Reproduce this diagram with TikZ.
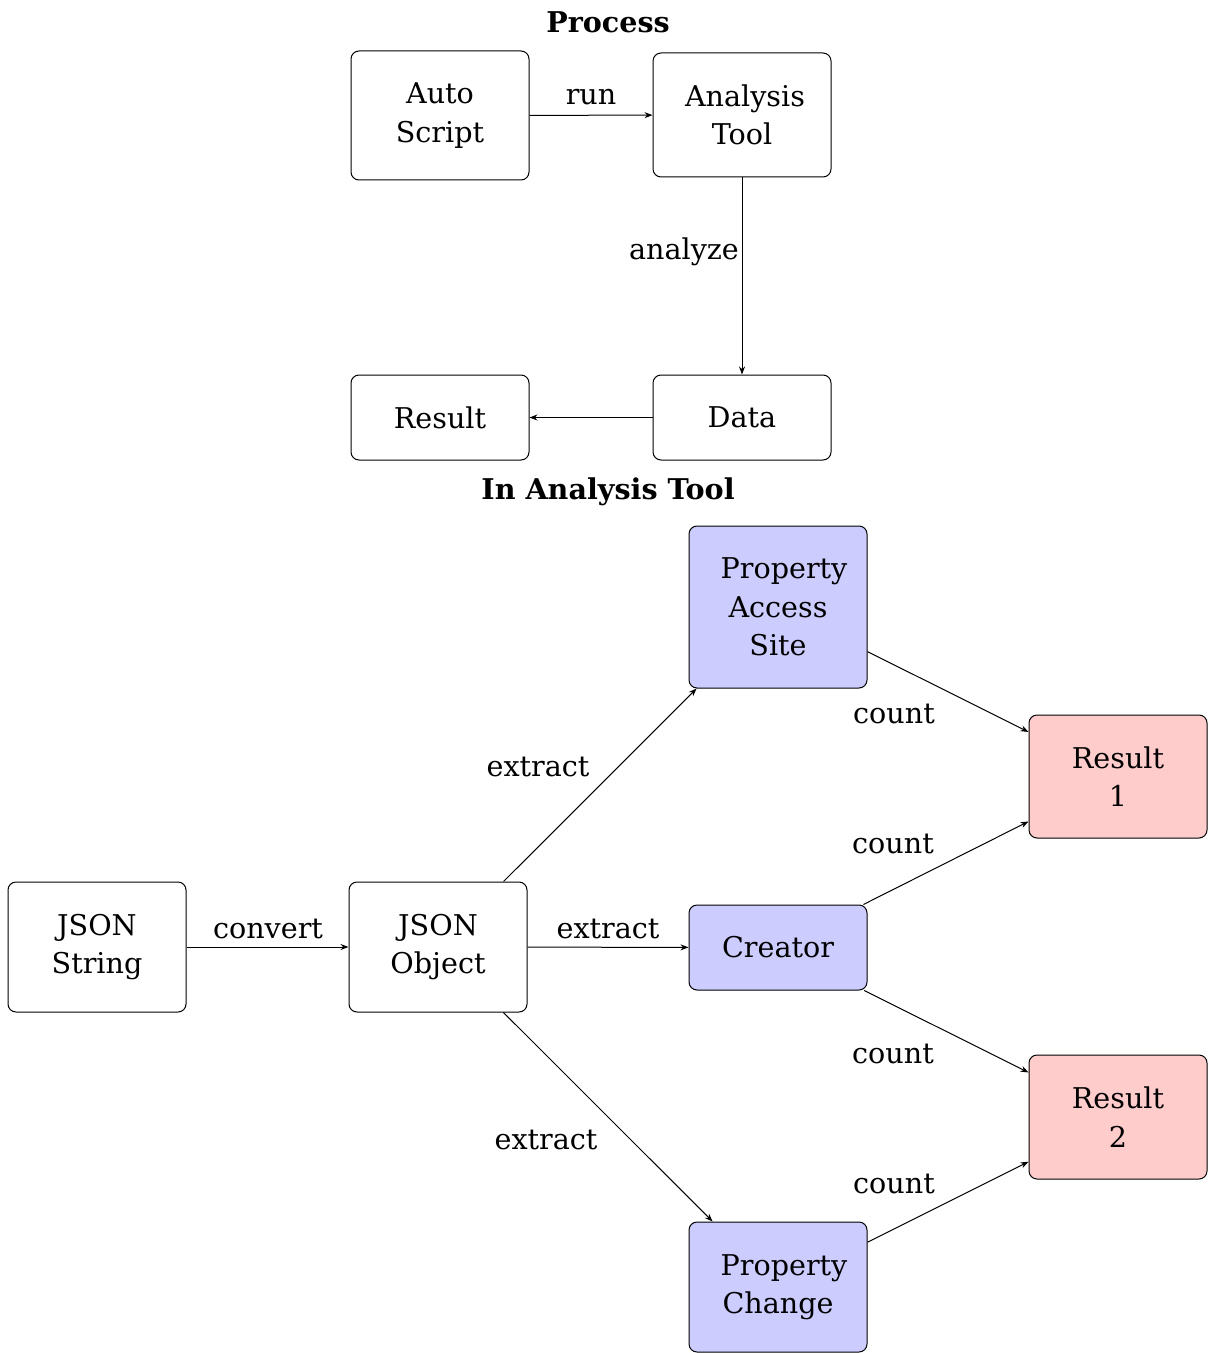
\documentclass[tikz,border=0pt]{standalone}
\usepackage{fontspec}
\setmainfont{DejaVu Serif}
\usetikzlibrary{arrows.meta}
\definecolor{blufill}{RGB}{204,204,255}
\definecolor{redfill}{RGB}{255,204,204}
\begin{document}
\begin{tikzpicture}[x=0.5pt,y=-0.5pt,
  box/.style={draw, rounded corners=4pt, line width=0.5pt, minimum width=89pt, align=center, inner sep=0pt, font=\fontsize{14.3}{19.2}\selectfont},
  blu/.style={box, fill=blufill},
  red/.style={box, fill=redfill},
  lbl/.style={inner sep=0pt, font=\fontsize{14.3}{19.2}\selectfont},
  ttl/.style={inner sep=0pt, font=\fontsize{14.3}{19.2}\selectfont\bfseries},
  arr/.style={-{Stealth[length=4pt,width=3pt]}, line width=0.5pt}]
\useasboundingbox (0,0) rectangle (1209,1353);
% Process
\node[ttl] (t1) at (608,22) {Process};
\node[box, minimum height=64.5pt] (auto) at (440,115.5) {Auto\\Script};
\node[box, minimum height=62pt] (tool) at (742,115) {\hspace*{3pt}Analysis\\Tool};
\node[box, minimum height=42.5pt] (data) at (742,417.5) {Data};
\node[box, minimum height=42.5pt] (res) at (440,417.5) {Result};
\draw[arr] (auto) -- (tool);
\draw[arr] (tool) -- (data);
\draw[arr] (data) -- (res);
\node[lbl] (l1) at (591,97) {run};
\node[lbl] (l2) at (684,252) {analyze};
% In Analysis Tool
\node[ttl] (t2) at (608,492) {In Analysis Tool};
\node[box, minimum height=65pt] (jstr) at (97,947) {JSON\\String};
\node[box, minimum height=65pt] (jobj) at (438,947) {JSON\\Object};
\node[blu, minimum height=81pt] (pas) at (778,607) {\hspace*{6pt}Property\\Access\\Site};
\node[blu, minimum height=42.5pt] (cre) at (778,947.5) {Creator};
\node[blu, minimum height=65pt] (pc) at (778,1287) {\hspace*{6pt}Property\\Change};
\node[red, minimum height=61.5pt] (r1) at (1118,776.5) {Result\\1};
\node[red, minimum height=62pt] (r2) at (1118,1117) {Result\\2};
\draw[arr] (jstr) -- (jobj);
\draw[arr] (jobj) -- (cre);
\draw[arr] (jobj) -- (pas);
\draw[arr] (jobj) -- (pc);
\draw[arr] (pas) -- (r1);
\draw[arr] (cre) -- (r1);
\draw[arr] (cre) -- (r2);
\draw[arr] (pc) -- (r2);
\node[lbl] (l3) at (268,929) {convert};
\node[lbl] (l4) at (608,929) {extract};
\node[lbl] (l5) at (538,767) {extract};
\node[lbl] (l6) at (546,1140) {extract};
\node[lbl] (l7) at (894,714) {count};
\node[lbl] (l8) at (893,844) {count};
\node[lbl] (l9) at (893,1054) {count};
\node[lbl] (l10) at (894,1184) {count};
\end{tikzpicture}
\end{document}
